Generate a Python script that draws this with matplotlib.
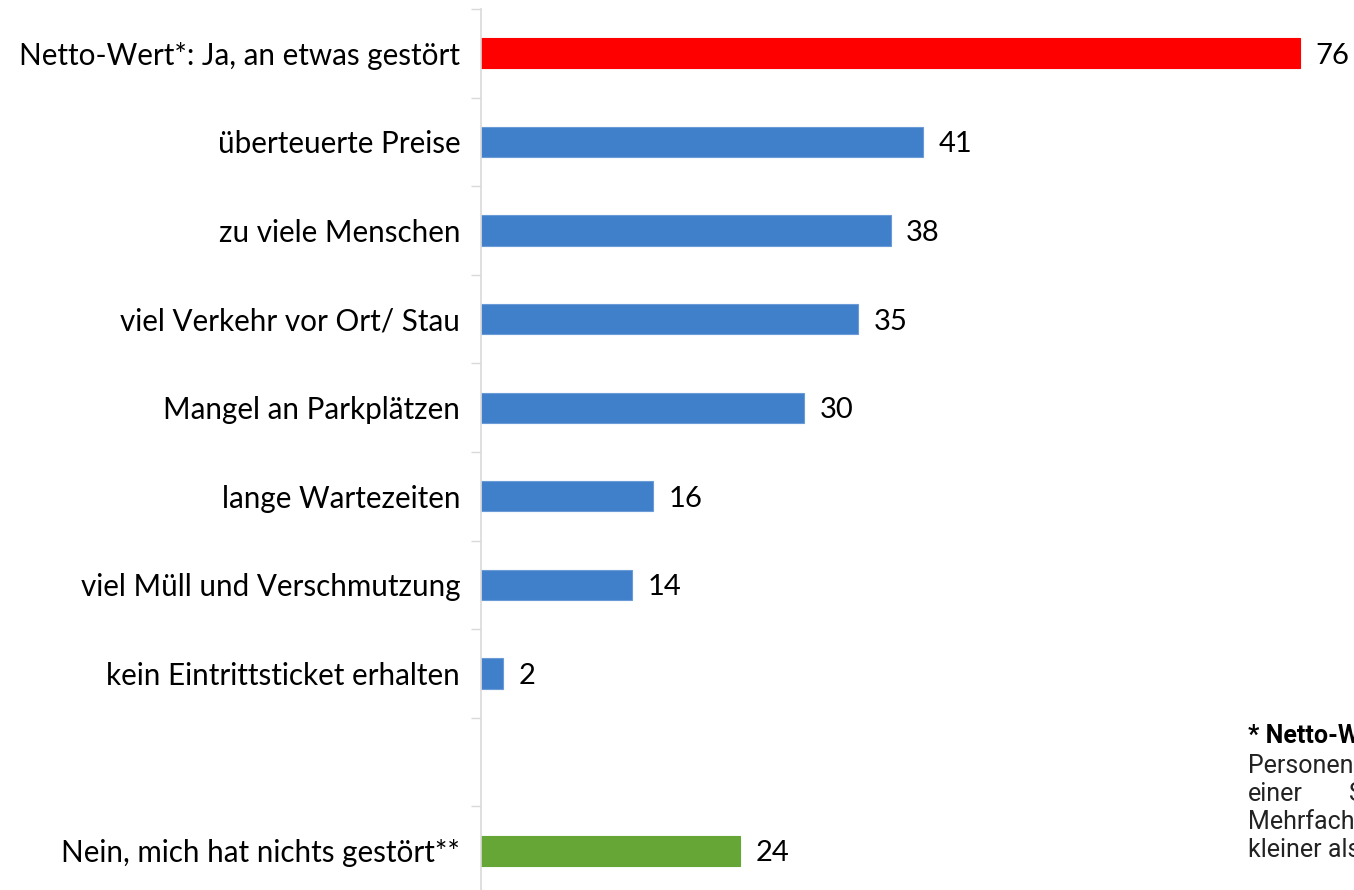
import matplotlib.pyplot as plt
import numpy as np

categories = ['Netto-Wert*: Ja, an etwas gestört', 'überteuerte Preise',
              'zu viele Menschen', 'viel Verkehr vor Ort/ Stau',
              'Mangel an Parkplätzen', 'lange Wartezeiten',
              'viel Müll und Verschmutzung', 'kein Eintrittsticket erhalten',
              '', 'Nein, mich hat nichts gestört**']
values = [76, 41, 38, 35, 30, 16, 14, 2, None, 24]
bar_colors = ['#ff0000', '#407fca', '#407fca', '#407fca', '#407fca',
              '#407fca', '#407fca', '#407fca', None, '#65a637']
edge_colors = ['#ff0000', '#6a9bd6', '#6a9bd6', '#6a9bd6', '#6a9bd6',
               '#6a9bd6', '#6a9bd6', '#6a9bd6', None, '#65a637']

note_title = '* Netto-Wert:'
note_lines = ['Personen, die mindestens', 'einer', 'Mehrfachnennungen möglich',
              'kleiner als Summe der Einzelwerte']

W, H = 1354, 890
fig = plt.figure(figsize=(W / 100, H / 100), dpi=100)
# axes placed by pixel: y-axis line at x=481, slots 88.6 px apart
ax = fig.add_axes([481 / W, -5 / H, (W - 481) / W, 886 / H])

pos = np.arange(len(categories))
for i, (v, c, e) in enumerate(zip(values, bar_colors, edge_colors)):
    if v is None:
        continue
    ax.barh(i, v, height=0.34, color=c, edgecolor=e, linewidth=0.8)
    ax.text(v + 1.45, i, str(v), va='center_baseline', ha='left',
            fontsize=21, family='Lato', color='#000000')

ax.set_xlim(0, 81)
ax.set_ylim(9.5, -0.5)
ax.set_yticks(pos)
ax.set_yticklabels(categories, fontsize=21.3, family='Lato')
ax.set_yticks(np.arange(-0.5, 10, 1), minor=True)
ax.tick_params(axis='y', which='major', length=0, pad=15)
ax.tick_params(axis='y', which='minor', length=7.5, width=1, color='#d9d9d9')
ax.set_xticks([])
for s in ['top', 'right', 'bottom']:
    ax.spines[s].set_visible(False)
ax.spines['left'].set_color('#d9d9d9')
ax.spines['left'].set_linewidth(1.2)

# footnote, runs off the right edge like in the original slide
fig.text(1248 / W, 1 - 743 / H, note_title, fontsize=18, family='Roboto',
         weight='bold', va='baseline')
ys = [773, 801, 829, 857]
for y, line in zip(ys, note_lines):
    fig.text(1248 / W, 1 - y / H, line, fontsize=18, family='Roboto',
             va='baseline', color='#222222')
fig.text(1349 / W, 1 - 801 / H, 'Störung zustimmten;', fontsize=18,
         family='Roboto', va='baseline', color='#222222')

fig.savefig('out.png', dpi=100)
